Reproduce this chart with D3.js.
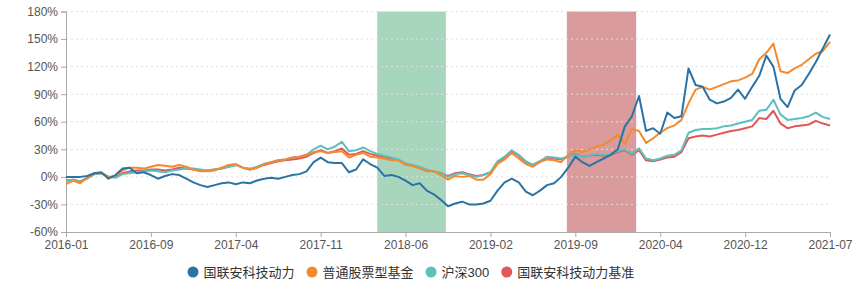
<!DOCTYPE html>
<html>
<head>
<meta charset="utf-8">
<script src="https://cdn.jsdelivr.net/npm/d3@7"></script>
<style>
  html, body { margin: 0; padding: 0; background: #fff; }
  svg { display: block; }
</style>
</head>
<body>
<svg id="chart" width="866" height="291"></svg>
<script>
// ---- data (category axis: evenly spaced samples, 12 per label interval) ----
const xLabels = ["2016-01","2016-09","2017-04","2017-11","2018-06","2019-02","2019-09","2020-04","2020-12","2021-07"];
const yTicks = [-60,-30,0,30,60,90,120,150,180];
const seriesNames = ["国联安科技动力","普通股票型基金","沪深300","国联安科技动力基准"];

const fund = [0,0,0,1,4,5,-2,2,9,10,4,5,2,-2,1,3,2,-2,-6,-9,-11,-9,-7,-6,-8,-6,-7,-4,-2,-1,-2,0,2,3,6,16,21,16,15,15,5,8,19,14,10,1,2,0,-4,-9,-7,-15,-19,-25,-32,-29,-27,-30,-30,-29,-26,-15,-6,-2,-6,-16,-20,-15,-9,-7,0,10,22,16,12,16,20,24,30,55,66,88,50,53,47,70,64,66,118,100,98,84,80,82,86,95,85,98,110,132,120,85,76,94,100,112,125,140,155];
const equityFunds = [-8,-4,-7,-1,4,4,0,1,7,10,10,9,11,13,12,11,13,11,8,6,6,7,10,13,14,10,8,10,14,16,18,19,21,22,24,27,28,26,27,28,21,24,26,22,21,20,18,18,13,12,9,6,6,2,-3,1,0,1,-3,-3,3,14,19,26,20,14,11,16,19,18,16,24,29,27,30,33,35,40,46,36,52,50,37,42,48,53,56,62,80,95,98,95,98,101,104,105,108,112,128,135,145,115,113,118,122,128,134,137,147];
const csi300 = [-5,-3,-5,-2,3,4,0,-1,3,4,5,6,7,6,5,7,8,9,9,8,7,8,9,11,13,10,9,11,14,16,18,19,21,22,24,30,34,30,33,38,28,29,32,28,25,23,21,19,15,13,11,8,6,4,0,3,4,2,0,2,5,17,22,29,24,17,13,17,22,21,20,22,24,22,23,25,24,25,28,30,25,31,20,18,20,23,24,29,48,51,52,52,53,55,56,58,60,62,72,73,84,68,62,63,64,66,70,65,63];
const benchmark = [-4,-3,-5,-1,3,4,0,0,4,6,7,7,8,8,7,8,10,9,8,7,7,8,9,11,13,10,8,10,13,15,17,18,19,20,22,26,29,26,28,31,24,25,28,25,23,21,20,18,14,12,10,7,6,4,1,4,5,3,1,2,5,16,21,28,23,16,13,17,21,20,19,22,25,22,23,24,23,24,27,29,24,29,18,17,19,21,22,27,42,44,45,44,46,48,50,51,53,55,64,63,72,58,53,55,56,57,61,58,56];

// shaded periods, in sample-index units
const bandStart = [44, 70.8];
const bandEnd = [53.7, 80.6];

// ---- layout ----
const W = 866, H = 291;
const margin = {left: 66, right: 36, top: 11.5, bottom: 59};
const colors = ["#2b73a3", "#f5892f", "#5ec0bc", "#e0585a"];
const bandColors = ["#a7d6bd", "#d99b9b"];
const n = fund.length;
const perLabel = (n - 1) / (xLabels.length - 1);

const svg = d3.select("#chart");
const x = d3.scaleLinear().domain([0, n - 1]).range([margin.left, W - margin.right]);
const y = d3.scaleLinear().domain([-60, 180]).range([H - margin.bottom, margin.top]);

const fontLatin = "Helvetica, 'Liberation Sans', Arial, 'Noto Sans CJK SC', sans-serif";

// bands
svg.append("g").selectAll("rect").data(bandStart).join("rect")
  .attr("x", (d) => x(d))
  .attr("y", y(180))
  .attr("width", (d, i) => x(bandEnd[i]) - x(d))
  .attr("height", y(-60) - y(180))
  .attr("fill", (d, i) => bandColors[i]);

// grid
svg.append("g").selectAll("line").data(yTicks.filter(t => t !== -60)).join("line")
  .attr("x1", margin.left).attr("x2", W - margin.right)
  .attr("y1", d => y(d)).attr("y2", d => y(d))
  .attr("stroke", "#e0e0e0").attr("stroke-width", 1)
  .attr("stroke-dasharray", "2,3");

// y axis
const yAxis = d3.axisLeft(y).tickValues(yTicks).tickFormat(d => d + "%").tickSize(5).tickPadding(3);
const gy = svg.append("g").attr("transform", `translate(${margin.left},0)`).call(yAxis);
gy.select(".domain").attr("stroke", "#aaa");
gy.selectAll(".tick line").attr("stroke", "#aaa");
gy.selectAll("text").attr("fill", "#555").style("font-size", "12px").style("font-family", fontLatin);

// x axis
const xTickVals = xLabels.map((d, i) => i * perLabel);
const xAxis = d3.axisBottom(x).tickValues(xTickVals).tickFormat((d, i) => xLabels[i]).tickSize(5).tickPadding(3);
const gx = svg.append("g").attr("transform", `translate(0,${y(-60)})`).call(xAxis);
gx.select(".domain").attr("stroke", "#aaa");
gx.selectAll(".tick line").attr("stroke", "#aaa");
gx.selectAll("text").attr("fill", "#555").style("font-size", "12px").style("font-family", fontLatin);

// lines (drawn bottom to top: benchmark, csi300, equity funds, fund)
const allSeries = [fund, equityFunds, csi300, benchmark];
const line = d3.line().x((d, i) => x(i)).y(d => y(d));
[3, 2, 1, 0].forEach(si => {
  svg.append("path").datum(allSeries[si])
    .attr("d", line)
    .attr("fill", "none")
    .attr("stroke", colors[si])
    .attr("stroke-width", 2)
    .attr("stroke-linejoin", "round");
});

// legend
const legend = svg.append("g");
let lx = 187.5;
const ly = 272;
seriesNames.forEach((name, i) => {
  const g = legend.append("g");
  g.append("circle").attr("cx", lx + 5.5).attr("cy", ly).attr("r", 5.5).attr("fill", colors[i]);
  const t = g.append("text").attr("x", lx + 16).attr("y", ly).attr("dy", "0.36em")
    .attr("fill", "#333").style("font-size", "13px")
    .style("font-family", "Helvetica, 'Liberation Sans', 'Noto Sans CJK SC', sans-serif")
    .text(name);
  lx = lx + 16 + t.node().getComputedTextLength() + 12;
});
</script>
</body>
</html>
